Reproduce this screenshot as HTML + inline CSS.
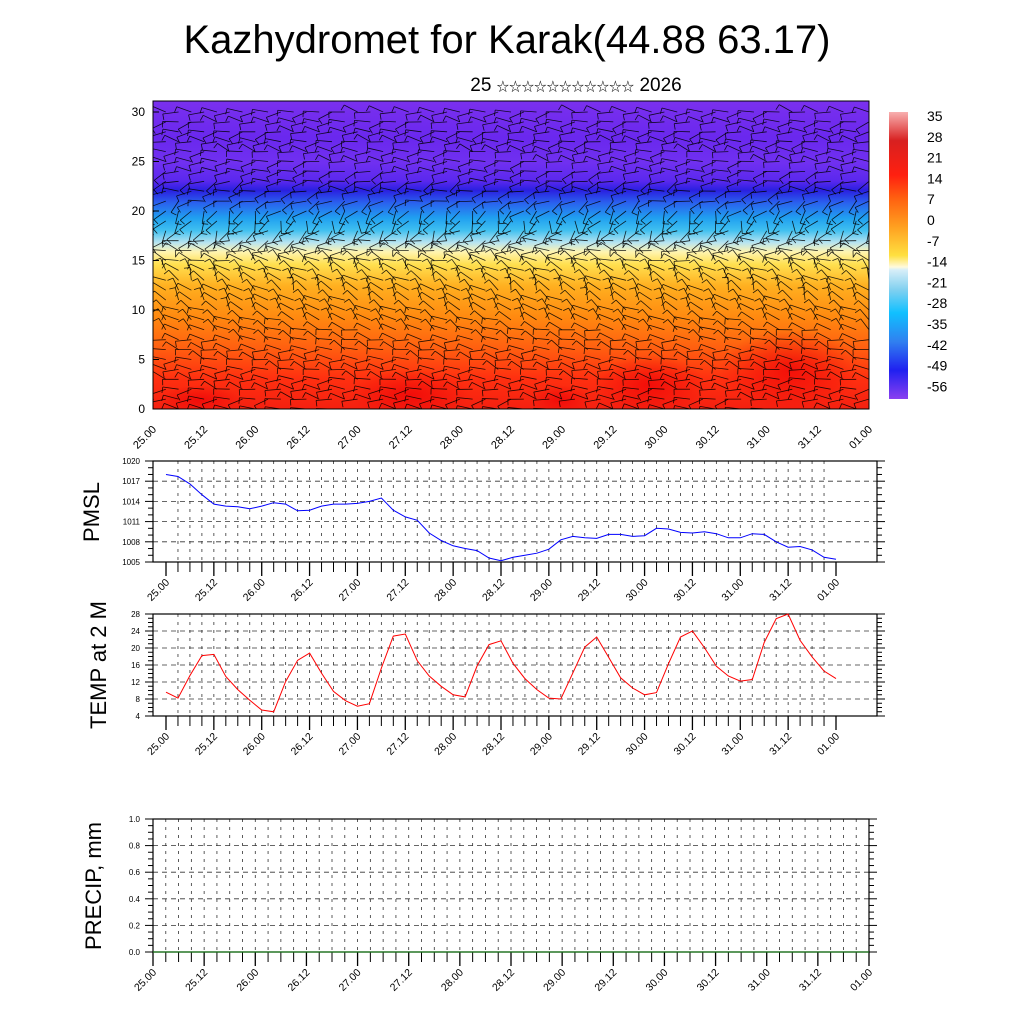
<!DOCTYPE html>
<html><head><meta charset="utf-8"><style>
html,body{margin:0;padding:0;background:#fff;}
svg{display:block;font-family:"Liberation Sans",sans-serif;}
</style></head><body>
<svg id="c" width="1024" height="1024" viewBox="0 0 1024 1024" xmlns="http://www.w3.org/2000/svg">
<defs>
<linearGradient id="tg" x1="0" y1="0" x2="0" y2="1">
<stop offset="0" stop-color="#7a30ee"/><stop offset="0.12" stop-color="#6a28ee"/><stop offset="0.2" stop-color="#7030f0"/>
<stop offset="0.26" stop-color="#5a28ee"/><stop offset="0.29" stop-color="#2a20e0"/><stop offset="0.33" stop-color="#2a60ee"/>
<stop offset="0.38" stop-color="#20a0f0"/><stop offset="0.42" stop-color="#40c0f0"/><stop offset="0.46" stop-color="#b8e4f0"/>
<stop offset="0.49" stop-color="#fff4b0"/><stop offset="0.53" stop-color="#ffe050"/><stop offset="0.6" stop-color="#ffb020"/>
<stop offset="0.7" stop-color="#ff8a10"/><stop offset="0.8" stop-color="#ff6010"/><stop offset="0.9" stop-color="#ff3010"/><stop offset="1" stop-color="#f52010"/>
</linearGradient>
<linearGradient id="cb" x1="0" y1="0" x2="0" y2="1">
<stop offset="0" stop-color="#f8b0b0"/><stop offset="0.1" stop-color="#d82020"/><stop offset="0.22" stop-color="#ff2010"/>
<stop offset="0.3" stop-color="#ff6010"/><stop offset="0.4" stop-color="#ffa020"/><stop offset="0.5" stop-color="#ffe040"/>
<stop offset="0.54" stop-color="#fffadc"/><stop offset="0.55" stop-color="#d8eef8"/><stop offset="0.62" stop-color="#80d0f0"/>
<stop offset="0.7" stop-color="#10c0ff"/><stop offset="0.8" stop-color="#3080f0"/><stop offset="0.9" stop-color="#2020f0"/><stop offset="1" stop-color="#8a40f0"/>
</linearGradient>
<radialGradient id="rb"><stop offset="0" stop-color="#f00808" stop-opacity="0.85"/><stop offset="1" stop-color="#f00808" stop-opacity="0"/></radialGradient>
<clipPath id="tc"><rect x="153" y="101" width="716" height="308"/></clipPath>
</defs>
<text x="507" y="53" font-size="40" text-anchor="middle">Kazhydromet for Karak(44.88 63.17)</text>
<text x="576" y="91" font-size="19" text-anchor="middle" font-family="Liberation Sans, Noto Sans CJK SC, sans-serif">25 <tspan font-size="12.5">☆☆☆☆☆☆☆☆☆☆☆</tspan> 2026</text>
<g id="top"></g>
<g id="cbar"></g>
<g id="pm"></g>
<g id="tp"></g>
<g id="pr"></g>
</svg>
<script>
const NS="http://www.w3.org/2000/svg";
const xLabels=["25.00","25.12","26.00","26.12","27.00","27.12","28.00","28.12","29.00","29.12","30.00","30.12","31.00","31.12","01.00"];
const pmslValues=[1018.0,1017.7,1016.6,1015.0,1013.6,1013.3,1013.2,1012.9,1013.3,1013.8,1013.6,1012.6,1012.7,1013.3,1013.6,1013.6,1013.7,1014.0,1014.5,1012.7,1011.7,1011.2,1009.3,1008.2,1007.4,1007.0,1006.7,1005.6,1005.2,1005.7,1006.0,1006.3,1006.9,1008.3,1008.8,1008.6,1008.5,1009.1,1009.1,1008.8,1008.9,1010.0,1009.9,1009.4,1009.3,1009.5,1009.2,1008.6,1008.6,1009.2,1009.1,1008.0,1007.2,1007.3,1006.8,1005.7,1005.4];
const tempValues=[9.6,8.2,13.5,18.2,18.5,13.3,10.2,7.7,5.4,5.0,12.1,17.1,18.8,14.1,9.8,7.6,6.3,6.9,15.3,22.8,23.3,17.0,13.4,11.0,9.0,8.5,15.8,20.8,21.7,16.4,12.8,10.2,8.2,8.0,14.1,20.2,22.6,17.8,13.0,10.6,9.0,9.5,16.3,22.6,24.0,20.1,15.7,13.4,12.2,12.6,21.3,26.9,28.0,21.8,17.9,14.6,12.8];
const pmslTicks=[1005,1008,1011,1014,1017,1020];
const tempTicks=[4,8,12,16,20,24,28];
const precipTicks=[0.0,0.2,0.4,0.6,0.8,1.0];
const levelTicks=[0,5,10,15,20,25,30];
const cbarLabels=["35","28","21","14","7","0","-7","-14","-21","-28","-35","-42","-49","-56"];
const windDir=[185,180,175,172,170,168,165,160,150,140,135,130,125,130,135,150,175,200,230,250,240,210,190,200,190,180,175,180,185,182,180];

function el(p,t,a){const e=document.createElementNS(NS,t);for(const k in a)e.setAttribute(k,a[k]);p.appendChild(e);return e;}
function xlabels(g,x0,x1,yb,fs){
  xLabels.forEach((s,i)=>{const x=x0+(x1-x0)*i/14;
    const t=el(g,"text",{x:x+4,y:yb,"font-size":fs,"text-anchor":"end",transform:`rotate(-45 ${x+4} ${yb})`});
    
    
    t.textContent=s;});
}
// ---------- top panel
(function(){
 const g=document.getElementById("top");
 const X0=153,X1=869,Y0=101,Y1=409;
 const ly=v=>409-v*(409-112)/30;
 el(g,"rect",{x:X0,y:Y0,width:716,height:308,fill:"url(#tg)"});
 const cg=el(g,"g",{"clip-path":"url(#tc)"});
 [[410,395,60,25],[650,385,55,30],[790,370,70,40],[200,400,40,15],[560,400,30,15]].forEach(b=>el(cg,"ellipse",{cx:b[0],cy:b[1],rx:b[2],ry:b[3],fill:"url(#rb)"}));
 const wg=el(cg,"g",{stroke:"#000","stroke-width":0.8,"stroke-opacity":0.85,fill:"none"});
 for(let l=0;l<windDir.length;l++){
   const y=ly(l);
   for(let i=0;i<=56;i++){
     const x=X0+i*716/56;
     const d=(windDir[l]+((i*37+l*13)%70)-35)*Math.PI/180;
     const L=16;
     const x2=x+L*Math.cos(d),y2=y-L*Math.sin(d)*0.8;
     el(wg,"line",{x1:x,y1:y,x2:x2,y2:y2});
     el(wg,"line",{x1:x2,y1:y2,x2:x2+6*Math.cos(d+1.6),y2:y2-6*Math.sin(d+1.6)});
   }
 }
 el(g,"rect",{x:X0,y:Y0,width:716,height:308,fill:"none",stroke:"#000","stroke-width":1});
 levelTicks.forEach(v=>{const y=ly(v);el(g,"line",{x1:X0,y1:y,x2:X0+6,y2:y,stroke:"#000"});
   const t=el(g,"text",{x:145,y:y+4,"font-size":12,"text-anchor":"end"});t.textContent=v;
   });
 xlabels(g,X0,X1,430,11);
})();
// ---------- colorbar
(function(){
 const g=document.getElementById("cbar");
 el(g,"rect",{x:889,y:112,width:19,height:287,fill:"url(#cb)"});
 cbarLabels.forEach((s,i)=>{const t=el(g,"text",{x:927,y:121+i*20.8,"font-size":14});t.textContent=s;
   });
})();
// ---------- line panels
function panel(id,x0,x1,y0,y1,ticks,fmt,title,titleX,titleY,vals,color,minor,xs0,xs1){
 const g=document.getElementById(id);
 const vmin=ticks[0],vmax=ticks[ticks.length-1];
 const sy=v=>y1-(v-vmin)/(vmax-vmin)*(y1-y0);
 const sx=i=>xs0+(xs1-xs0)*i/56;
 const gr=el(g,"g",{stroke:"#333","stroke-width":0.8,"stroke-dasharray":"3,5",fill:"none"});
 for(let i=1;i<56;i++){el(gr,"line",{x1:sx(i),y1:y0,x2:sx(i),y2:y1});}
 ticks.forEach((v,k)=>{if(k>0&&k<ticks.length-1)el(gr,"line",{x1:x0,y1:sy(v),x2:x1,y2:sy(v),"stroke-dasharray":"5,4"});});
 const tk=el(g,"g",{stroke:"#000","stroke-width":1});
 ticks.forEach((v,k)=>{
   el(tk,"line",{x1:x0-8,y1:sy(v),x2:x0,y2:sy(v)});el(tk,"line",{x1:x1,y1:sy(v),x2:x1+8,y2:sy(v)});
   if(k<ticks.length-1)for(let m=1;m<minor;m++){const yy=sy(v+(ticks[1]-ticks[0])*m/minor);
     el(tk,"line",{x1:x0-5,y1:yy,x2:x0,y2:yy});el(tk,"line",{x1:x1,y1:yy,x2:x1+5,y2:yy});}
   const t=el(g,"text",{x:x0-13,y:sy(v)+3,"font-size":8,"text-anchor":"end"});t.textContent=fmt(v);
   
 });
 for(let i=0;i<=56;i++){const big=i%4==0;el(tk,"line",{x1:sx(i),y1:y1,x2:sx(i),y2:y1+(big?14:10),"stroke-width":big?1.3:1});}
 el(g,"rect",{x:x0,y:y0,width:x1-x0,height:y1-y0,fill:"none",stroke:"#000","stroke-width":1.2});
 if(vals){const p=vals.map((v,i)=>(i?"L":"M")+sx(i).toFixed(1)+","+sy(v).toFixed(1)).join("");
   const ln=el(g,"path",{d:p,fill:"none",stroke:color,"stroke-width":1});
   }
 else{el(g,"line",{x1:x0,y1:y1,x2:x1,y2:y1,stroke:"#1a7a1a","stroke-width":1.2});}
 const tt=el(g,"text",{x:titleX,y:titleY,"font-size":22,"text-anchor":"middle",transform:`rotate(-90 ${titleX} ${titleY})`});
 tt.textContent=title;
 xlabels(g,xs0,xs1,y1+21,10.5);
}
panel("pm",153,877,461,562,pmslTicks,v=>v,"PMSL",99,512,pmslValues,"#0000ff",3,166,836);
panel("tp",153,877,614,716,tempTicks,v=>v,"TEMP at 2 M",106,665,tempValues,"#ff0000",4,166,836);
panel("pr",153,869,819,952,precipTicks,v=>v.toFixed(1),"PRECIP, mm",101,886,null,"",4,153,869);
</script>
</body></html>
